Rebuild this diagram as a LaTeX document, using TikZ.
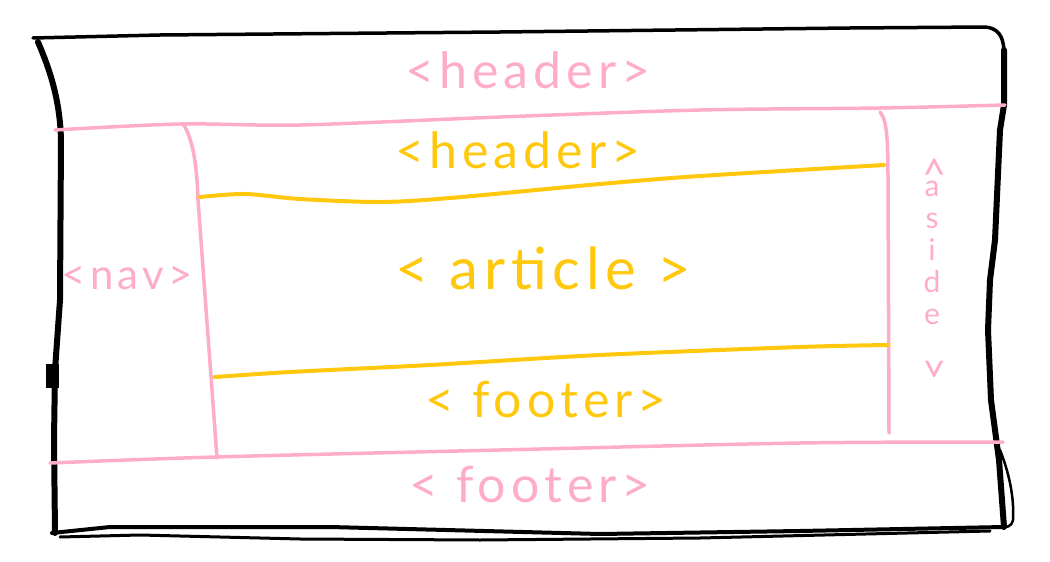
\documentclass[tikz,border=0pt]{standalone}
\usepackage{fontspec}
\usepackage{tikz}
\usetikzlibrary{positioning}
\newfontfamily\handfont[LetterSpace=10]{Lato}
\definecolor{sketchpink}{RGB}{255,172,202}
\definecolor{sketchyellow}{RGB}{255,200,12}

\begin{document}
\begin{tikzpicture}[
    x=1pt,y=-1pt,
    frame/.style={draw=black, line width=6pt, line cap=round, line join=round},
    thinframe/.style={draw=black, line width=3.5pt, line cap=round, line join=round},
    pinkline/.style={draw=sketchpink, line width=3.5pt, line cap=round},
    yellowline/.style={draw=sketchyellow, line width=4pt, line cap=round},
    pinklabel/.style={font=\handfont\fontsize{50}{50}\selectfont, text=sketchpink},
    yellowlabel/.style={font=\handfont\fontsize{50}{50}\selectfont, text=sketchyellow}
]
\useasboundingbox (0,0) rectangle (1050,562);

% ===== outer page frame =====
\draw[thinframe] (33,38) -- (160,35) -- (500,32) -- (850,28) -- (985,27)
  .. controls (998,28) and (1003,36) .. (1004,50);
\draw[frame] (38,42) .. controls (50,70) and (60,100) .. (61,140)
  -- (60,300) -- (55,370) -- (54,440) -- (55,533);
\fill (46,364) rectangle (59,388);
\draw[frame] (1004,50) -- (1004,105) -- (1000,130) -- (995,240) -- (990,280)
  -- (988,330) -- (991,400) -- (999,460) -- (1004,527);
\draw[thinframe, line width=2.5pt] (1000,450) .. controls (1012,480) and (1014,505) .. (1013,520)
  .. controls (1011,528) and (1006,527) .. (1000,527);
\draw[thinframe, line width=4pt] (1004,527) -- (800,531) -- (600,534) -- (330,527)
  -- (110,527) -- (52,533);
\draw[thinframe, line width=3pt] (990,531) -- (700,538) -- (480,540) -- (300,539)
  -- (140,535) -- (60,537);

% ===== pink page regions =====
\draw[pinkline] plot[smooth] coordinates {(55,130) (180,124) (300,125) (500,117)
  (700,110) (880,108) (1005,105)};
\draw[pinkline] (183,124) .. controls (194,140) and (197,170) .. (198,200) -- (217,458);
\draw[pinkline] (880,112) .. controls (887,120) and (888,140) .. (888,180) -- (889,433);
\draw[pinkline] plot[smooth] coordinates {(50,463) (215,457) (500,450) (800,443) (1003,442)};

% ===== yellow article regions =====
\draw[yellowline] plot[smooth] coordinates {(200,197) (245,194) (300,199) (380,202)
  (450,198) (600,184) (700,176) (884,165)};
\draw[yellowline] plot[smooth] coordinates {(215,377) (290,372) (430,365) (600,355)
  (800,347) (888,345)};

% ===== labels =====
\node[pinklabel] (pageheader) at (528,70) {<header>};
\node[yellowlabel] (articleheader) at (518,150) {<header>};
\node[yellowlabel, font=\handfont\fontsize{58}{58}\selectfont] (article) at (543,268) {< article >};
\node[yellowlabel] (articlefooter) at (546,400) {< footer>};
\node[pinklabel] (pagefooter) at (530,485) {< footer>};
\node[pinklabel, font=\handfont\fontsize{42}{42}\selectfont] (nav) at (127,278) {<nav>};
\node[pinklabel, font=\handfont\fontsize{30}{32}\selectfont, align=center] (aside) at (932,268)
  {{\fontsize{42}{34}\selectfont\rotatebox{-90}{<}}\\a\\s\\i\\d\\e\\
   {\fontsize{42}{34}\selectfont\rotatebox{-90}{>}}};
\end{tikzpicture}
\end{document}
